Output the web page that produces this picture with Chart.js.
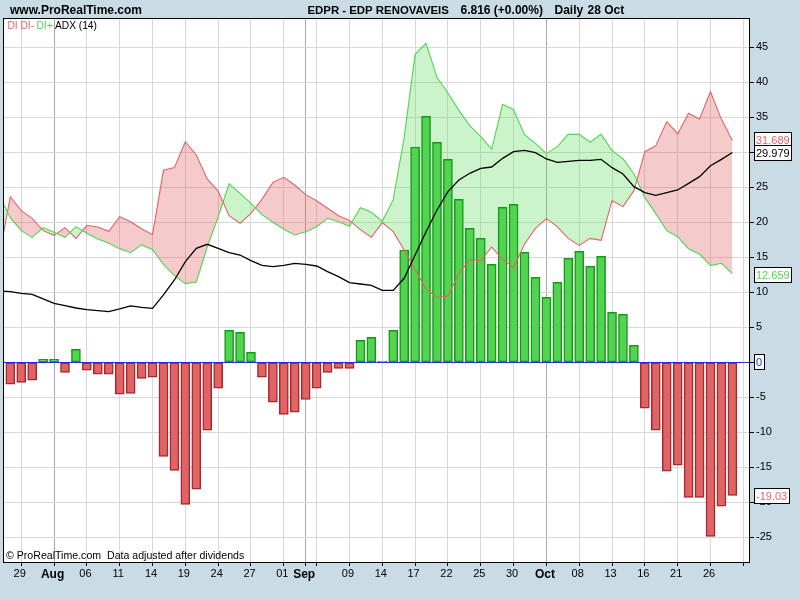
<!DOCTYPE html>
<html>
<head>
<meta charset="utf-8">
<title>EDPR ADX</title>
<script src="https://cdn.jsdelivr.net/npm/chart.js@4/dist/chart.umd.min.js"></script>
<style>
  html, body { margin: 0; padding: 0; background: #c9dbe5; }
  canvas { display: block; }
</style>
</head>
<body>
<canvas id="chart" width="800" height="600"></canvas>
<script>
// first value of each DI/ADX line is the day before the first bar (cut off by the left edge)
const diMinus = [15.24, 23.66, 21.66, 20.57, 18.81, 18.14, 19.24, 17.71, 19.57, 19.33, 18.71, 20.81, 20.09, 19.09, 18.24,
    27.43, 27.81, 31.52, 29.62, 26.19, 24.47, 20.95, 19.86, 21.28, 23.28, 25.71, 26.43, 25.33, 23.95, 23.09, 22.0,
    20.95, 20.28, 18.95, 17.86, 19.95, 18.66, 16.05, 13.24, 10.43, 9.28, 9.47, 12.71, 14.66, 14.52, 16.47, 14.71,
    13.52, 16.90, 19.14, 20.52, 19.38, 17.71, 16.71, 17.71, 17.43, 23.09, 22.24, 24.52, 30.09, 30.95, 34.38, 32.66,
    35.57, 34.76, 38.66, 34.71, 31.689];
const diPlus = [23.76, 20.67, 18.81, 17.85, 19.24, 18.57, 17.85, 19.38, 18.43, 17.62, 17.0, 16.24, 15.66, 16.81, 16.09,
    14.0, 12.38, 11.24, 11.48, 16.47, 20.76, 25.52, 24.14, 22.71, 21.09, 20.0, 19.0, 18.19, 18.66, 19.38, 20.57,
    20.09, 19.43, 22.09, 21.43, 20.14, 23.24, 32.09, 44.0, 45.57, 40.71, 38.47, 36.0, 33.81, 32.24, 30.47, 36.86,
    36.09, 32.52, 31.28, 29.81, 30.81, 32.57, 32.57, 31.43, 32.57, 30.24, 29.09, 26.95, 23.52, 21.24, 18.81, 17.95,
    16.19, 15.47, 13.81, 14.14, 12.659];
const adx = [10.19, 10.09, 9.86, 9.71, 9.05, 8.43, 8.09, 7.76, 7.52, 7.38, 7.24, 7.62, 8.05, 7.86, 7.71,
    9.62, 11.76, 14.38, 16.28, 16.86, 16.28, 15.66, 15.33, 14.52, 13.86, 13.67, 13.86, 14.14, 14.0, 13.76, 12.95,
    12.24, 11.38, 11.19, 11.0, 10.28, 10.28, 12.0, 15.33, 18.66, 21.76, 24.38, 26.05, 27.0, 27.71, 27.9, 29.14,
    30.09, 30.28, 29.95, 29.05, 28.57, 28.71, 28.86, 28.86, 29.0, 27.81, 26.9, 25.09, 24.24, 23.86, 24.24, 24.62,
    25.57, 26.52, 28.09, 29.0, 29.979];
const histogram = [-3.14, -2.86, -2.57, 0.43, 0.43, -1.43, 1.86, -1.14, -1.71, -1.71, -4.57, -4.43, -2.29, -2.14,
    -13.43, -15.43, -20.29, -18.14, -9.71, -3.71, 4.57, 4.29, 1.43, -2.14, -5.71, -7.43, -7.14, -5.29, -3.71, -1.43,
    -0.86, -0.86, 3.14, 3.57, 0.19, 4.57, 16.05, 30.76, 35.14, 31.43, 29.0, 23.28, 19.14, 17.71, 14.0, 22.14, 22.57,
    15.71, 12.14, 9.28, 11.43, 14.86, 15.86, 13.71, 15.14, 7.14, 6.86, 2.43, -6.57, -9.71, -15.57, -14.71, -19.29,
    -19.29, -24.86, -20.57, -19.03];

const xTickDays = [1, 4, 7, 10, 13, 16, 19, 22, 25, 27, 28, 31, 34, 37, 40, 43, 46, 49, 52, 55, 58, 61, 64, 67];
const xTickLabels = ['29', 'Aug', '06', '11', '14', '19', '24', '27', '01', 'Sep', '', '09', '14', '17', '22', '25', '30', 'Oct', '08', '13', '16', '21', '26', ''];
const monthLabels = ['Aug', 'Sep', 'Oct'];
const yTicks = [-25, -20, -15, -10, -5, 0, 5, 10, 15, 20, 25, 30, 35, 40, 45];

const RED = '#e06468';
const GREEN = '#52d452';
const FONT = '"Liberation Sans", Arial, sans-serif';

const asPoints = values => values.map((v, i) => ({ x: i - 1, y: v }));
const last = values => values[values.length - 1];
const labelOf = day => xTickLabels[xTickDays.indexOf(day)];
const isMonth = day => monthLabels.includes(labelOf(day));

// white plot, then frame, zero line, value boxes and the texts around the chart
const decorations = {
    id: 'decorations',
    beforeDraw(chart) {
        const { ctx, chartArea: a } = chart;
        ctx.fillStyle = '#ffffff';
        ctx.fillRect(a.left, a.top, a.right - a.left, a.bottom - a.top);
    },
    afterDatasetsDraw(chart) {
        const { ctx, chartArea: a, scales } = chart;
        const zero = Math.round(scales.y.getPixelForValue(0)) + 0.5;
        ctx.save();
        ctx.strokeStyle = '#2a2ae0';
        ctx.lineWidth = 1;
        ctx.beginPath();
        ctx.moveTo(a.left, zero);
        ctx.lineTo(a.right, zero);
        ctx.stroke();
        ctx.restore();
    },
    afterDraw(chart) {
        const { ctx, chartArea: a, scales } = chart;
        ctx.save();
        ctx.strokeStyle = '#000000';
        ctx.lineWidth = 1;
        ctx.strokeRect(a.left + 0.5, a.top + 0.5, a.right - a.left - 1, a.bottom - a.top);

        const text = (str, x, y, color, font) => {
            ctx.font = font;
            ctx.fillStyle = color;
            ctx.textAlign = 'left';
            ctx.textBaseline = 'alphabetic';
            ctx.fillText(str, x, y);
        };
        const bold = 'bold 12px ' + FONT;
        const plain = '11px ' + FONT;
        const small = '10.2px ' + FONT;
        text('www.ProRealTime.com', 10, 14, '#000', bold);
        text('EDPR - EDP RENOVAVEIS', 307.5, 14, '#000', 'bold 11.4px ' + FONT);
        text('6.816 (+0.00%)', 460.5, 14, '#000', bold);
        text('Daily', 554.5, 14, '#000', bold);
        text('28 Oct', 587.5, 14, '#000', bold);

        text('DI', 7.5, 29, RED, small);
        text('DI-', 20.5, 29, RED, small);
        text('DI+', 36.5, 29, GREEN, small);
        text('ADX (14)', 55, 29, '#000', small);
        text('\u00A9 ProRealTime.com  Data adjusted after dividends', 6, 559, '#000', '10.6px ' + FONT);

        const tag = (value, label, color, dy) => {
            const cy = Math.round(scales.y.getPixelForValue(value)) + dy;
            ctx.font = plain;
            const w = Math.ceil(ctx.measureText(label).width) + 3;
            ctx.fillStyle = '#ffffff';
            ctx.fillRect(754.5, cy - 7.5, w, 15);
            ctx.strokeStyle = '#000000';
            ctx.strokeRect(754.5, cy - 7.5, w, 15);
            text(label, 756, cy + 4, color, plain);
        };
        tag(last(diMinus), last(diMinus).toFixed(3), RED, 0);
        tag(last(diPlus), last(diPlus).toFixed(3), GREEN, 1);
        tag(last(histogram), last(histogram).toFixed(2), RED, 0);
        tag(0, '0', '#2a2ae0', 0);
        tag(last(adx), last(adx).toFixed(3), '#000', 1);
        ctx.restore();
    }
};

new Chart(document.getElementById('chart'), {
    type: 'bar',
    data: {
        datasets: [
            {   // band between DI- and DI+, sits under the bars
                type: 'line',
                data: asPoints(diMinus),
                borderWidth: 0,
                pointRadius: 0,
                fill: { target: 2, above: 'rgba(218, 80, 80, 0.3)', below: 'rgba(82, 220, 82, 0.3)' },
                order: 5
            },
            {
                type: 'bar',
                data: histogram.map((v, i) => ({ x: i, y: v })),
                backgroundColor: ctx => ctx.raw.y >= 0 ? GREEN : '#de6466',
                borderColor: ctx => ctx.raw.y >= 0 ? '#149a14' : '#aa262c',
                borderWidth: 1.5,
                borderSkipped: false,
                barThickness: 9,
                order: 4
            },
            {
                type: 'line',
                data: asPoints(diPlus),
                borderColor: GREEN,
                borderWidth: 1.1,
                pointRadius: 0,
                order: 2
            },
            {
                type: 'line',
                data: asPoints(diMinus),
                borderColor: RED,
                borderWidth: 1.1,
                pointRadius: 0,
                order: 3
            },
            {
                type: 'line',
                data: asPoints(adx),
                borderColor: '#000000',
                borderWidth: 1.3,
                pointRadius: 0,
                order: 1
            }
        ]
    },
    options: {
        responsive: false,
        animation: false,
        devicePixelRatio: 1,
        layout: { padding: { left: 3, top: 18, right: 0, bottom: 0 } },
        plugins: { legend: { display: false }, tooltip: { enabled: false } },
        scales: {
            x: {
                type: 'linear',
                offset: false,
                min: -0.667,
                max: 67.61,
                grid: {
                    offset: false,
                    color: ctx => ctx.tick && isMonth(ctx.tick.value) ? '#a8a8a8' : '#d8d8d8',
                    tickColor: '#000000',
                    tickLength: 4
                },
                border: { display: false },
                afterBuildTicks: scale => { scale.ticks = xTickDays.map(value => ({ value })); },
                afterFit: scale => { scale.height = 38; },
                ticks: {
                    autoSkip: false,
                    maxRotation: 0,
                    padding: 1,
                    labelOffset: -1.5,
                    color: '#000000',
                    font: ctx => ctx.tick && isMonth(ctx.tick.value)
                        ? { family: FONT, size: 12, weight: 'bold' }
                        : { family: FONT, size: 11 },
                    callback: value => labelOf(value)
                }
            },
            y: {
                position: 'right',
                min: -28.53,
                max: 49.19,
                grid: { color: '#d8d8d8', tickColor: '#000000', tickLength: 4 },
                border: { display: false },
                afterBuildTicks: scale => { scale.ticks = yTicks.map(value => ({ value })); },
                afterFit: scale => { scale.width = 50; },
                ticks: {
                    autoSkip: false,
                    padding: 2,
                    crossAlign: 'near',
                    color: '#000000',
                    font: { family: FONT, size: 11 },
                    callback: value => String(value)
                }
            }
        }
    },
    plugins: [decorations]
});
</script>
</body>
</html>
